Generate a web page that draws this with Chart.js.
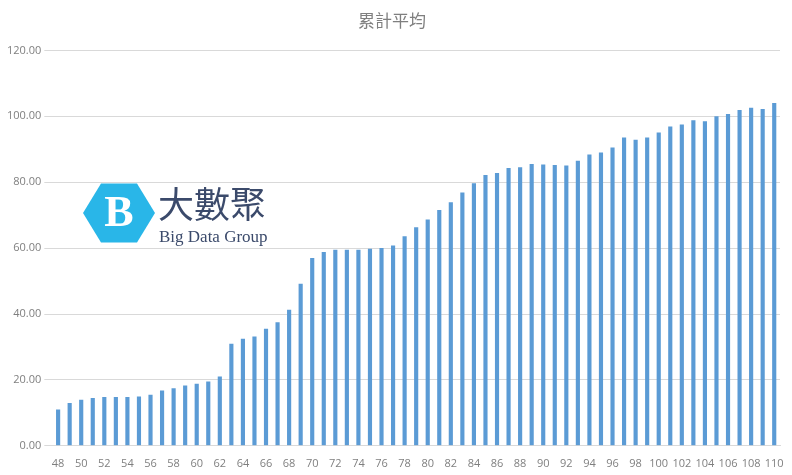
<!DOCTYPE html>
<html>
<head>
<meta charset="utf-8">
<script src="https://cdn.jsdelivr.net/npm/chart.js@4.4.0/dist/chart.umd.min.js"></script>
<style>
  html, body { margin: 0; padding: 0; background: #fff; }
  #wrap { width: 792px; height: 475px; }
</style>
</head>
<body>
<div id="wrap"><canvas id="c"></canvas></div>
<script>
const ages = [];
for (let a = 48; a <= 110; a++) ages.push(String(a));

const averages = [
  11, 13, 14, 14.5, 14.8, 14.8, 14.8, 15, 15.5, 16.8,
  17.5, 18.3, 18.8, 19.5, 21, 31, 32.5, 33.2, 35.5, 37.5,
  41.3, 49.2, 57, 58.8, 59.5, 59.5, 59.5, 59.8, 60, 60.8,
  63.6, 66.3, 68.7, 71.6, 73.9, 76.9, 79.7, 82.2, 82.8, 84.3,
  84.5, 85.5, 85.4, 85.2, 85.1, 86.5, 88.4, 89, 90.5, 93.6,
  92.9, 93.6, 95.1, 96.9, 97.5, 98.8, 98.5, 100, 100.7, 101.9,
  102.6, 102.2, 104
];

// logo drawn on top of the plot area
const logoPlugin = {
  id: 'logo',
  afterDraw(chart) {
    const ctx = chart.ctx;
    const cx = 119, cy = 213, r = 36;
    ctx.save();
    ctx.fillStyle = '#29b6e8';
    ctx.beginPath();
    for (let i = 0; i < 6; i++) {
      const ang = Math.PI / 3 * i;
      const x = cx + r * Math.cos(ang), y = cy + r * Math.sin(ang) * 0.95;
      if (i === 0) ctx.moveTo(x, y); else ctx.lineTo(x, y);
    }
    ctx.closePath();
    ctx.fill();
    ctx.fillStyle = '#fff';
    ctx.font = 'bold 44px "Liberation Serif"';
    ctx.textAlign = 'center';
    ctx.textBaseline = 'middle';
    ctx.fillText('B', cx, cy + 2);
    ctx.fillStyle = '#3b4a6b';
    ctx.textAlign = 'left';
    ctx.font = '36px "Noto Sans CJK TC"';
    ctx.fillText('大數聚', 158, 204);
    ctx.font = '17px "Liberation Serif"';
    ctx.fillText('Big Data Group', 159, 238);
    ctx.restore();
  }
};

new Chart(document.getElementById('c'), {
  type: 'bar',
  data: {
    labels: ages,
    datasets: [{
      data: averages,
      backgroundColor: '#5b9bd5',
      barPercentage: 0.36,
      categoryPercentage: 1
    }]
  },
  options: {
    responsive: true,
    maintainAspectRatio: false,
    animation: false,
    layout: { padding: { left: 4, right: 12, top: 8, bottom: 2 } },
    plugins: {
      legend: { display: false },
      tooltip: { enabled: false },
      title: {
        display: true,
        text: '累計平均',
        color: '#7f7f7f',
        font: { family: '"Noto Sans CJK TC"', size: 17, weight: 'normal' },
        padding: { top: 2, bottom: 20 }
      }
    },
    scales: {
      x: {
        grid: { display: false },
        border: { color: '#d9d9d9' },
        ticks: {
          color: '#7f7f7f',
          font: { family: '"Open Sans"', size: 11 },
          maxRotation: 0,
          autoSkip: false,
          callback: (v, i) => (i % 2 === 0 ? ages[i] : '')
        }
      },
      y: {
        min: 0,
        max: 120,
        grid: { color: '#d9d9d9' },
        border: { display: false },
        ticks: {
          stepSize: 20,
          color: '#7f7f7f',
          font: { family: '"Open Sans"', size: 11 },
          callback: v => v.toFixed(2)
        }
      }
    }
  },
  plugins: [logoPlugin]
});
</script>
</body>
</html>
